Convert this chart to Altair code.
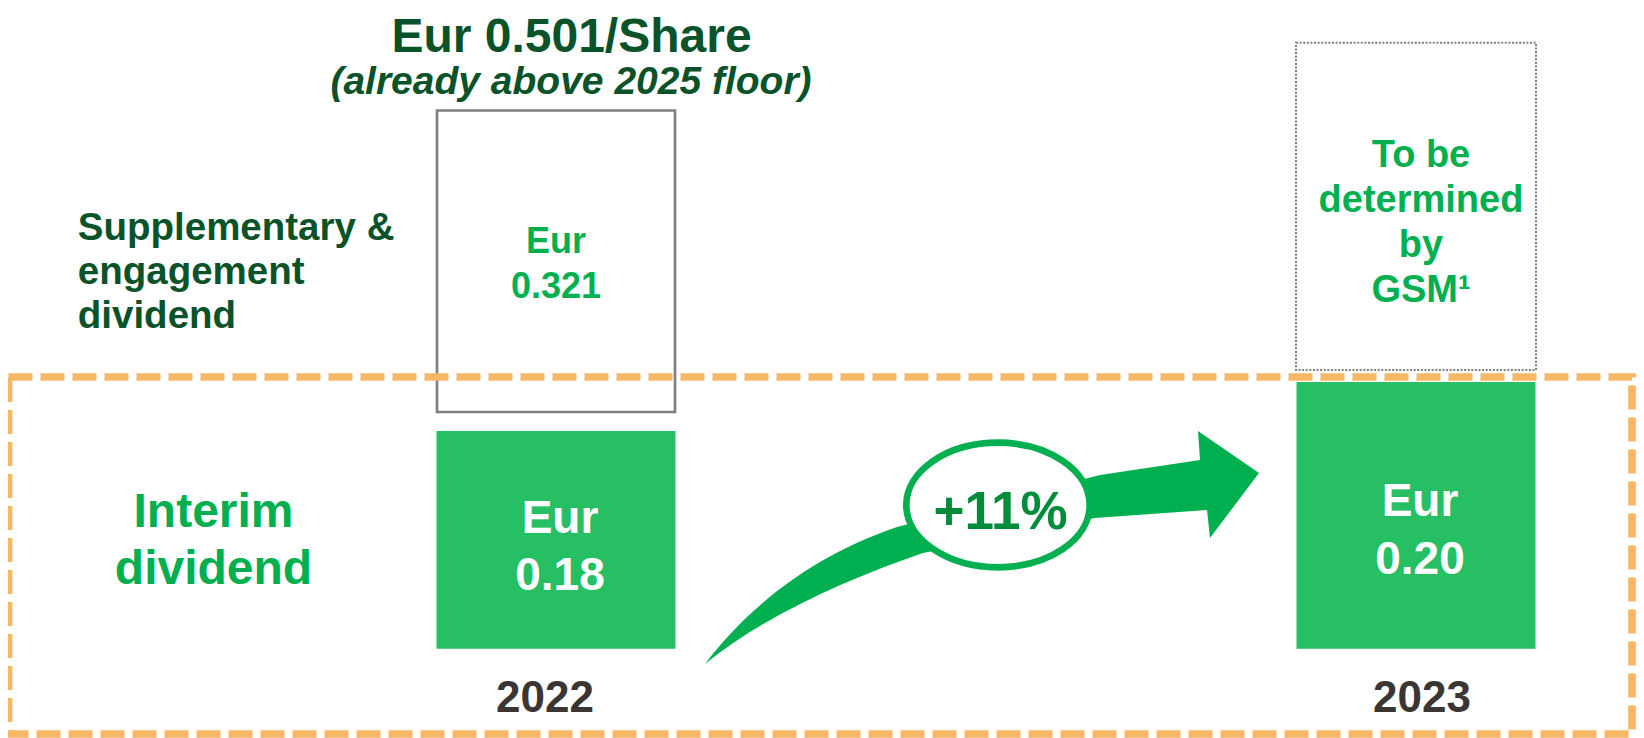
import altair as alt
import pandas as pd

# ---------------- data ----------------
years = [2022, 2023]
year_labels = ["2022", "2023"]
interim = [0.18, 0.20]                 # interim dividend, Eur/share
supplementary = [0.321, None]          # supplementary & engagement dividend (2023: to be determined)
supp_label_lines = ["Supplementary &", "engagement", "dividend"]
interim_label_lines = ["Interim", "dividend"]
tbd_lines = ["To be", "determined", "by", "GSM¹"]
subtitle_text = "(already above 2025 floor)"
currency = "Eur"

title_text = f"{currency} {interim[0] + supplementary[0]:.3f}/Share"
growth_text = f"+{round((interim[1] / interim[0] - 1) * 100)}%"

df = pd.DataFrame({"year": years, "year_label": year_labels,
                   "interim": interim, "supp": supplementary})
one = pd.DataFrame({"k": [0]})

# ---------------- styles ----------------
W, H = 1628, 730
FONT = "Liberation Sans"
DARK_GREEN = "#0A5229"
GREEN = "#00B050"
BAR_GREEN = "#27BF64"
ARROW_GREEN = "#00B050"
PCT_GREEN = "#008C3A"
ORANGE = "#F7B866"
GRAY = "#808080"
YEAR_COLOR = "#3A3634"

X_BAR = [548, 1408]
X_YEAR = [537, 1414]


def xenc(rng):
    return alt.X("year:Q", scale=alt.Scale(domain=[2022, 2023], range=rng, zero=False,
                                           nice=False, padding=0), axis=None)


def txt(**kw):
    base = dict(font=FONT, fontWeight="bold", align="center", baseline="alphabetic")
    base.update(kw)
    return base


# ---------------- decorative shapes (symbol paths) ----------------
AX, AY, AR = 982.0, 547.5, 280.0


def rp(x, y):
    return f"{(x - AX) / AR:.4f} {(y - AY) / AR:.4f}"


arrow_path = (
    "M " + rp(705, 664)
    + " C " + rp(740, 618) + " " + rp(800, 560) + " " + rp(897, 527)
    + " L " + rp(1100, 475)
    + " L " + rp(1200, 460)
    + " L " + rp(1198, 431)
    + " L " + rp(1259, 473)
    + " L " + rp(1210, 538)
    + " L " + rp(1207, 510)
    + " L " + rp(1095, 518)
    + " L " + rp(923, 553)
    + " C " + rp(850, 578) + " " + rp(765, 615) + " " + rp(705, 664)
    + " Z"
)

ER = 91.7
eb = 62.3 / ER
k = 0.5523
ellipse_path = (
    f"M 1 0 C 1 {k*eb:.4f} {k:.4f} {eb:.4f} 0 {eb:.4f} "
    f"C {-k:.4f} {eb:.4f} -1 {k*eb:.4f} -1 0 "
    f"C -1 {-k*eb:.4f} {-k:.4f} {-eb:.4f} 0 {-eb:.4f} "
    f"C {k:.4f} {-eb:.4f} 1 {-k*eb:.4f} 1 0 Z"
)

base = alt.Chart(df)

gray_box = base.transform_filter("isValid(datum.supp)").transform_calculate(
    total="datum.interim + datum.supp"
).mark_bar(size=238, fillOpacity=0, stroke=GRAY, strokeWidth=2.7).encode(
    x=xenc(X_BAR),
    y=alt.Y("total:Q", scale=alt.Scale(domain=[0.18, 0.501], range=[404, 102.5],
                                        zero=False, nice=False), axis=None),
    y2=alt.Y2("interim:Q"),
)

dotted_box = base.transform_filter("!isValid(datum.supp)").mark_bar(
    size=240, fillOpacity=0, stroke=GRAY, strokeWidth=2, strokeDash=[2, 1.6]
).encode(x=xenc(X_BAR), y=alt.value(34.7), y2=alt.value(362))

# piecewise scale: zero baseline at the bottom of the bars, interim values above
interim_bars = base.mark_bar(size=239, color=BAR_GREEN).encode(
    x=xenc(X_BAR),
    y=alt.Y("interim:Q", scale=alt.Scale(domain=[0, 0.18, 0.20], range=[640.7, 423, 374],
                                          zero=False, nice=False), axis=None),
    y2=alt.datum(0),
)

orange_box = alt.Chart(one).mark_rect(
    fillOpacity=0, stroke=ORANGE, strokeWidth=7.7, strokeDash=[24, 8]
).encode(x=alt.value(0.5), x2=alt.value(1624), y=alt.value(369), y2=alt.value(726))

arrow = alt.Chart(one).mark_point(
    shape=arrow_path, filled=True, fill=ARROW_GREEN, opacity=1, strokeWidth=0, size=4 * AR * AR
).encode(x=alt.value(AX - 8), y=alt.value(AY - 8))

ellipse = alt.Chart(one).mark_point(
    shape=ellipse_path, filled=True, fill="white", stroke=ARROW_GREEN, strokeWidth=6.7,
    opacity=1, size=4 * ER * ER
).encode(x=alt.value(990), y=alt.value(497))

label_scale = alt.Scale(domain=[0.18, 0.20], range=[524.7, 508], zero=False, nice=False)
bar_eur = base.mark_text(**txt(fontSize=46, color="white", dx=4)).encode(
    x=xenc(X_BAR), y=alt.Y("interim:Q", scale=label_scale, axis=None), text=alt.value(currency))
bar_val = base.mark_text(**txt(fontSize=46, color="white", dx=4, dy=57.5)).encode(
    x=xenc(X_BAR), y=alt.Y("interim:Q", scale=label_scale, axis=None),
    text=alt.Text("interim:Q", format=".2f"))

supp_only = base.transform_filter("isValid(datum.supp)")
box_eur = supp_only.mark_text(**txt(fontSize=36, color=GREEN)).encode(
    x=xenc(X_BAR), y=alt.value(245.3), text=alt.value(currency))
box_val = supp_only.mark_text(**txt(fontSize=36, color=GREEN)).encode(
    x=xenc(X_BAR), y=alt.value(290.3), text=alt.Text("supp:Q", format=".3f"))

tbd = base.transform_filter("!isValid(datum.supp)").mark_text(
    **txt(fontSize=38, color=GREEN, lineHeight=45, dx=5)
).encode(x=xenc(X_BAR), y=alt.value(158.7), text=alt.value(tbd_lines))

year_txt = base.mark_text(**txt(fontSize=44, color=YEAR_COLOR)).encode(
    x=xenc(X_YEAR), y=alt.value(703.7), text="year_label:N")

title = alt.Chart(one).mark_text(**txt(fontSize=48, color=DARK_GREEN)).encode(
    x=alt.value(563.5), y=alt.value(43.5), text=alt.value(title_text))
subtitle = alt.Chart(one).mark_text(**txt(fontSize=39, color=DARK_GREEN, fontStyle="italic")).encode(
    x=alt.value(563), y=alt.value(86), text=alt.value(subtitle_text))

supp_lbl = alt.Chart(one).mark_text(**txt(fontSize=38.5, color=DARK_GREEN, align="left", lineHeight=44)).encode(
    x=alt.value(69.8), y=alt.value(232), text=alt.value(supp_label_lines))
interim_lbl = alt.Chart(one).mark_text(**txt(fontSize=48, color=GREEN, lineHeight=57.3)).encode(
    x=alt.value(205.5), y=alt.value(518.7), text=alt.value(interim_label_lines))

growth = alt.Chart(one).mark_text(**txt(fontSize=53, color=PCT_GREEN)).encode(
    x=alt.value(992.5), y=alt.value(521), text=alt.value(growth_text))

chart = alt.layer(
    gray_box, dotted_box, interim_bars, orange_box, arrow, ellipse,
    bar_eur, bar_val, box_eur, box_val, tbd, year_txt,
    title, subtitle, supp_lbl, interim_lbl, growth,
).resolve_scale(x="independent", y="independent").properties(
    width=W, height=H, padding=0, autosize=alt.AutoSizeParams(type="none")
).configure_view(strokeWidth=0)

chart.save("out.html", embed_options={"renderer": "svg", "actions": False})
